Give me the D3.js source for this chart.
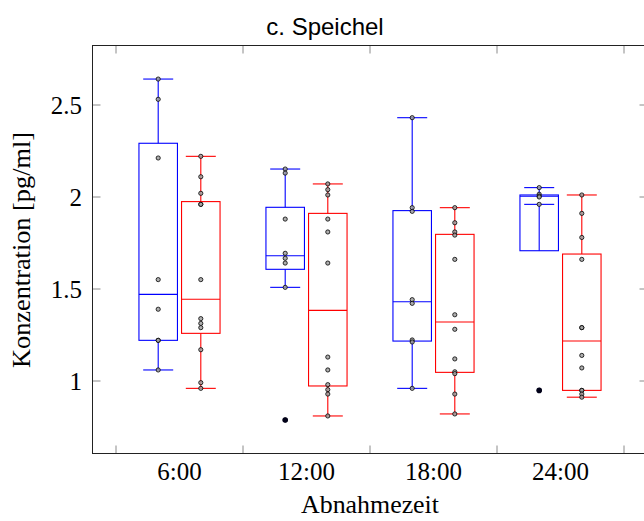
<!DOCTYPE html>
<html><head><meta charset="utf-8">
<script src="https://cdn.jsdelivr.net/npm/d3@7"></script>
<style>
html,body{margin:0;padding:0;background:#fff;}
svg{display:block;}
</style></head>
<body>
<svg id="chart" width="644" height="521"></svg>
<script>
// ---- data ----
const categories = ["6:00", "12:00", "18:00", "24:00"];
const seriesNames = ["blau", "rot"];
const yTicks = [1, 1.5, 2, 2.5];
const yTickLabels = ["1", "1.5", "2", "2.5"];

const blueLowerWhisker = [1.06, 1.509, 0.96, 1.96];
const blueQ1 = [1.221, 1.607, 1.217, 1.708];
const blueMedian = [1.471, 1.681, 1.431, 2.004];
const blueQ3 = [2.292, 1.944, 1.926, 2.011];
const blueUpperWhisker = [2.641, 2.152, 2.431, 2.051];
const blueOutliers = [[], [0.788], [], [0.949]];
const bluePoints = [
  [2.641, 2.531, 2.212, 1.551, 1.39, 1.221, 1.221, 1.06],
  [2.152, 2.13, 1.88, 1.694, 1.667, 1.641, 1.509, 0.788],
  [2.431, 1.942, 1.922, 1.442, 1.422, 1.223, 1.212, 0.96],
  [2.051, 2.015, 2.005, 2.0, 1.96, 0.949]
];

const redLowerWhisker = [0.96, 0.81, 0.821, 0.912];
const redQ1 = [1.259, 0.973, 1.047, 0.949];
const redMedian = [1.444, 1.384, 1.321, 1.217];
const redQ3 = [1.975, 1.911, 1.797, 1.69];
const redUpperWhisker = [2.221, 2.071, 1.942, 2.011];
const redOutliers = [[], [], [], []];
const redPoints = [
  [2.221, 2.11, 2.02, 1.96, 1.96, 1.551, 1.339, 1.313, 1.29, 1.17, 0.991, 0.96],
  [2.071, 2.04, 2.011, 1.88, 1.81, 1.641, 1.13, 1.06, 0.98, 0.953, 0.929, 0.81],
  [1.942, 1.86, 1.81, 1.793, 1.661, 1.36, 1.281, 1.12, 1.05, 1.04, 0.929, 0.821],
  [2.011, 1.911, 1.78, 1.661, 1.29, 1.29, 1.139, 1.071, 0.949, 0.949, 0.929, 0.912]
];

// ---- layout ----
const svg = d3.select("#chart");
const serif = "'Liberation Serif','Times New Roman',serif";
const frame = {left: 92.5, right: 647.5, top: 45.5, bottom: 453.5};

const x = d3.scaleBand().domain(categories).range([116, 624]);
const xSub = d3.scalePoint().domain(seriesNames).range([-21.3, 21.3]);
const y = d3.scaleLinear().domain([1, 2.5]).range([381, 105]);

const boxW = 38.5, capW = 30;

const series = [
  {name: "blau", color: "#0000ff", lw: blueLowerWhisker, q1: blueQ1, med: blueMedian, q3: blueQ3, uw: blueUpperWhisker, out: blueOutliers, pts: bluePoints},
  {name: "rot", color: "#ff0000", lw: redLowerWhisker, q1: redQ1, med: redMedian, q3: redQ3, uw: redUpperWhisker, out: redOutliers, pts: redPoints}
];

// ticks (drawn inside frame, top/bottom/left/right)
const tickColor = "#8a8a8a", tickLen = 8;
const xTickPos = x.domain().map(d => x(d)).concat([x.range()[1]]);
const gt = svg.append("g").attr("stroke", tickColor).attr("stroke-width", 1);
xTickPos.forEach(p => {
  gt.append("line").attr("x1", p).attr("x2", p).attr("y1", frame.bottom).attr("y2", frame.bottom - tickLen);
  gt.append("line").attr("x1", p).attr("x2", p).attr("y1", frame.top).attr("y2", frame.top + tickLen);
});
yTicks.forEach(v => {
  gt.append("line").attr("x1", frame.left).attr("x2", frame.left + tickLen).attr("y1", y(v)).attr("y2", y(v));
  gt.append("line").attr("x1", frame.right).attr("x2", frame.right - tickLen).attr("y1", y(v)).attr("y2", y(v));
});

// boxes
series.forEach(s => {
  const g = svg.append("g").attr("fill", "none").attr("stroke", s.color).attr("stroke-width", 1.1);
  categories.forEach((c, i) => {
    const cx = x(c) + x.bandwidth() / 2 + xSub(s.name);
    // whiskers
    g.append("line").attr("x1", cx).attr("x2", cx).attr("y1", y(s.q3[i])).attr("y2", y(s.uw[i]));
    g.append("line").attr("x1", cx).attr("x2", cx).attr("y1", y(s.q1[i])).attr("y2", y(s.lw[i]));
    g.append("line").attr("x1", cx - capW / 2).attr("x2", cx + capW / 2).attr("y1", y(s.uw[i])).attr("y2", y(s.uw[i]));
    g.append("line").attr("x1", cx - capW / 2).attr("x2", cx + capW / 2).attr("y1", y(s.lw[i])).attr("y2", y(s.lw[i]));
    // box
    g.append("rect").attr("x", cx - boxW / 2).attr("width", boxW)
      .attr("y", y(s.q3[i])).attr("height", y(s.q1[i]) - y(s.q3[i]));
    // median
    g.append("line").attr("x1", cx - boxW / 2).attr("x2", cx + boxW / 2).attr("y1", y(s.med[i])).attr("y2", y(s.med[i]));
  });
});

// points
series.forEach(s => {
  const g = svg.append("g");
  categories.forEach((c, i) => {
    const cx = x(c) + x.bandwidth() / 2 + xSub(s.name);
    s.pts[i].forEach(v => {
      g.append("circle").attr("cx", cx).attr("cy", y(v)).attr("r", 2.1)
        .attr("fill", "#a0a0a0").attr("fill-opacity", 0.85).attr("stroke", "#000").attr("stroke-width", 0.8);
    });
    s.out[i].forEach(v => {
      g.append("circle").attr("cx", cx).attr("cy", y(v)).attr("r", 2.8)
        .attr("fill", "#000018").attr("stroke", "none");
    });
  });
});

// frame
svg.append("rect").attr("x", frame.left).attr("y", frame.top)
  .attr("width", frame.right - frame.left).attr("height", frame.bottom - frame.top)
  .attr("fill", "none").attr("stroke", "#222").attr("stroke-width", 1);

// tick labels
categories.forEach(c => {
  svg.append("text").attr("x", x(c) + x.bandwidth() / 2).attr("y", 480)
    .attr("text-anchor", "middle").attr("font-family", serif).attr("font-size", 25)
    .attr("fill", "#000").text(c);
});
yTicks.forEach((v, i) => {
  svg.append("text").attr("x", 82).attr("y", y(v) + 8.5)
    .attr("text-anchor", "end").attr("font-family", serif).attr("font-size", 25)
    .attr("fill", "#000").text(yTickLabels[i]);
});

// axis labels
svg.append("text").attr("x", 370).attr("y", 513)
  .attr("text-anchor", "middle").attr("font-family", serif).attr("font-size", 25)
  .attr("textLength", 138).attr("lengthAdjust", "spacingAndGlyphs")
  .attr("fill", "#000").text("Abnahmezeit");
svg.append("text").attr("transform", "translate(30,250) rotate(-90)")
  .attr("text-anchor", "middle").attr("font-family", serif).attr("font-size", 25)
  .attr("textLength", 236).attr("lengthAdjust", "spacingAndGlyphs")
  .attr("fill", "#000").text("Konzentration [pg/ml]");

// title
svg.append("text").attr("x", 325).attr("y", 34.5)
  .attr("text-anchor", "middle").attr("font-family", "'Liberation Sans',Arial,sans-serif").attr("font-size", 24)
  .attr("fill", "#000").text("c. Speichel");
</script>
</body></html>
